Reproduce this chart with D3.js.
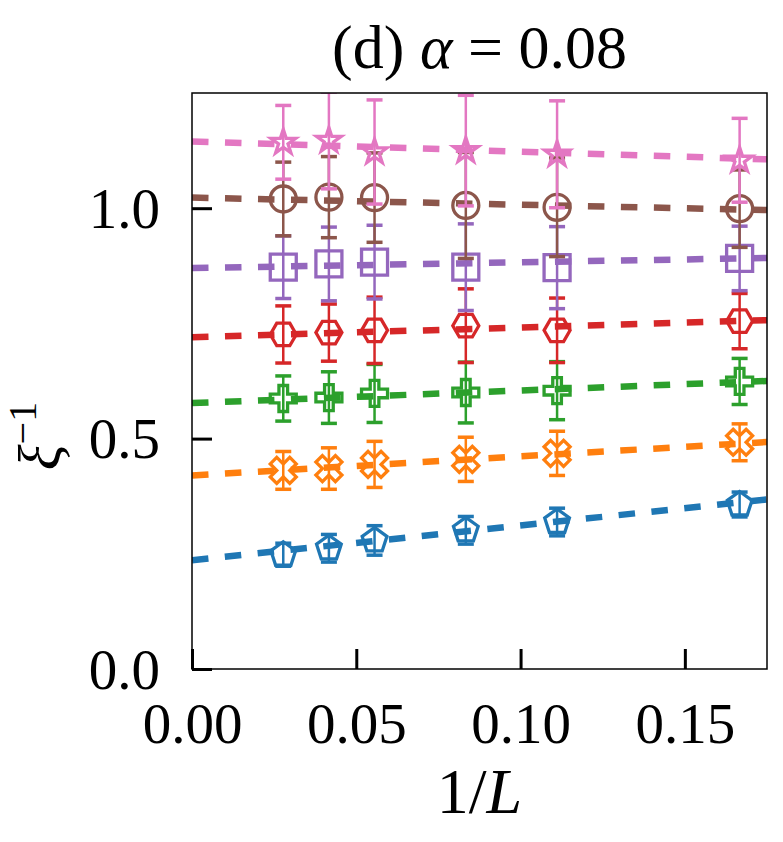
<!DOCTYPE html>
<html>
<head>
<meta charset="utf-8">
<script src="https://cdn.jsdelivr.net/npm/d3@7"></script>
<style>
  body { margin: 0; background: #fff; }
  text { font-family: "Liberation Serif", "DejaVu Serif", serif; fill: #000; }
</style>
</head>
<body>
<div id="chart"></div>
<script>
// 1/L for L = 36, 24, 18, 12, 9, 6
const invL = [1 / 36, 1 / 24, 1 / 18, 1 / 12, 1 / 9, 1 / 6];

const seriesNames = ["s1", "s2", "s3", "s4", "s5", "s6", "s7"];
const seriesColors = ["#1f77b4", "#ff7f0e", "#2ca02c", "#d62728", "#9467bd", "#8c564b", "#e377c2"];
const seriesMarkers = ["pentagon", "xfilled", "plus", "hexagon", "square", "circle", "star"];

// xi^-1 values, one row per series
const values = [
  [0.248, 0.262, 0.279, 0.301, 0.319, 0.357],
  [0.431, 0.435, 0.444, 0.455, 0.468, 0.492],
  [0.587, 0.589, 0.598, 0.600, 0.604, 0.624],
  [0.726, 0.730, 0.735, 0.745, 0.735, 0.755],
  [0.872, 0.879, 0.883, 0.872, 0.871, 0.891],
  [1.020, 1.024, 1.023, 1.006, 1.002, 0.999],
  [1.143, 1.147, 1.122, 1.125, 1.117, 1.104]
];
const errors = [
  [0.025, 0.030, 0.032, 0.030, 0.030, 0.027],
  [0.041, 0.045, 0.050, 0.048, 0.048, 0.040],
  [0.049, 0.056, 0.063, 0.066, 0.063, 0.050],
  [0.062, 0.062, 0.072, 0.080, 0.070, 0.060],
  [0.068, 0.080, 0.080, 0.094, 0.089, 0.070],
  [0.080, 0.088, 0.097, 0.115, 0.107, 0.084],
  [0.080, 0.105, 0.113, 0.120, 0.116, 0.091]
];
// dashed fit lines: value at 1/L = 0 and at the right edge (1/L = 0.175)
const fitAtZero = [0.236, 0.420, 0.577, 0.720, 0.870, 1.023, 1.145];
const fitAtEdge = [0.368, 0.4925, 0.625, 0.757, 0.892, 0.996, 1.106];

const xTicks = [0, 0.05, 0.10, 0.15];
const yTicks = [0, 0.5, 1.0];

const W = 783, H = 842;
const margin = { left: 192, right: 16, top: 93, bottom: 173 };
const xMax = 0.175, yMax = 1.25;

const svg = d3.select("#chart").append("svg")
  .attr("width", W)
  .attr("height", H);

const x = d3.scaleLinear().domain([0, xMax]).range([margin.left, W - margin.right]);
const y = d3.scaleLinear().domain([0, yMax]).range([H - margin.bottom, margin.top]);

svg.append("clipPath").attr("id", "clip")
  .append("rect")
  .attr("x", x(0)).attr("y", y(yMax))
  .attr("width", x(xMax) - x(0)).attr("height", y(0) - y(yMax));

// marker shapes (matplotlib-like), size s = full extent
function polygon(n, r, rot) {
  const pts = [];
  for (let i = 0; i < n; i++) {
    const a = -Math.PI / 2 + rot + i * 2 * Math.PI / n;
    pts.push([r * Math.cos(a), r * Math.sin(a)]);
  }
  return pts;
}
function toPath(pts) {
  return "M" + pts.map(p => p[0].toFixed(2) + "," + p[1].toFixed(2)).join("L") + "Z";
}
function markerPath(type, s) {
  const h = s / 2;
  if (type === "circle") {
    return `M${-h},0A${h},${h} 0 1,0 ${h},0A${h},${h} 0 1,0 ${-h},0Z`;
  }
  if (type === "square") return toPath([[-h, -h], [h, -h], [h, h], [-h, h]]);
  if (type === "pentagon") return toPath(polygon(5, h, 0));
  if (type === "hexagon") return toPath(polygon(6, h, Math.PI / 6));
  if (type === "star") {
    const pts = [];
    for (let i = 0; i < 10; i++) {
      const r = i % 2 === 0 ? h : h * 0.381966;
      const a = -Math.PI / 2 + i * Math.PI / 5;
      pts.push([r * Math.cos(a), r * Math.sin(a)]);
    }
    return toPath(pts);
  }
  if (type === "plus") {
    const u = s / 6;
    return toPath([[-1, -3], [1, -3], [1, -1], [3, -1], [3, 1], [1, 1], [1, 3], [-1, 3], [-1, 1], [-3, 1], [-3, -1], [-1, -1]]
      .map(p => [p[0] * u, p[1] * u]));
  }
  if (type === "xfilled") {
    const u = s / 4;
    return toPath([[-1, -2], [0, -1], [1, -2], [2, -1], [1, 0], [2, 1], [1, 2], [0, 1], [-1, 2], [-2, 1], [-1, 0], [-2, -1]]
      .map(p => [p[0] * u, p[1] * u]));
  }
}

const plot = svg.append("g").attr("clip-path", "url(#clip)");
const markerSize = 26;
const capHalf = 8;

seriesNames.forEach((name, i) => {
  const color = seriesColors[i];
  const pts = invL.map((v, j) => ({ x: v, y: values[i][j], e: errors[i][j] }));
  const g = plot.append("g").attr("class", "series " + name);

  // fit line
  g.append("line")
    .attr("x1", x(0)).attr("y1", y(fitAtZero[i]))
    .attr("x2", x(xMax)).attr("y2", y(fitAtEdge[i]))
    .attr("stroke", color)
    .attr("stroke-width", 6.5)
    .attr("stroke-dasharray", "16.5,16.5");

  // error bars
  g.selectAll("line.err").data(pts).enter().append("line")
    .attr("class", "err")
    .attr("x1", d => x(d.x)).attr("x2", d => x(d.x))
    .attr("y1", d => y(d.y - d.e)).attr("y2", d => y(d.y + d.e))
    .attr("stroke", color).attr("stroke-width", 2.5);
  [-1, 1].forEach(sign => {
    g.selectAll("line.cap" + sign).data(pts).enter().append("line")
      .attr("x1", d => x(d.x) - capHalf).attr("x2", d => x(d.x) + capHalf)
      .attr("y1", d => y(d.y + sign * d.e)).attr("y2", d => y(d.y + sign * d.e))
      .attr("stroke", color).attr("stroke-width", 3.5);
  });

  // markers
  g.selectAll("path.mk").data(pts).enter().append("path")
    .attr("class", "mk")
    .attr("d", markerPath(seriesMarkers[i], markerSize))
    .attr("transform", d => `translate(${x(d.x)},${y(d.y)})`)
    .attr("fill", "none")
    .attr("stroke", color)
    .attr("stroke-width", 3.3)
    .attr("stroke-linejoin", "miter");
});

// frame
svg.append("rect")
  .attr("x", x(0)).attr("y", y(yMax))
  .attr("width", x(xMax) - x(0)).attr("height", y(0) - y(yMax))
  .attr("fill", "none").attr("stroke", "#000").attr("stroke-width", 1.5);

// axes with inward ticks
const fontSize = 57;
const xAxis = svg.append("g")
  .attr("transform", `translate(0,${y(0)})`)
  .call(d3.axisBottom(x).tickValues(xTicks).tickFormat(d3.format(".2f")).tickSize(-20).tickPadding(34));
const yAxis = svg.append("g")
  .attr("transform", `translate(${x(0)},0)`)
  .call(d3.axisLeft(y).tickValues(yTicks).tickFormat(d3.format(".1f")).tickSize(-20).tickPadding(32));
[xAxis, yAxis].forEach(a => {
  a.select(".domain").remove();
  a.selectAll(".tick line").attr("stroke", "#000").attr("stroke-width", 3);
  a.selectAll(".tick text")
    .attr("font-family", "'Liberation Serif', serif")
    .attr("font-size", fontSize)
    .attr("fill", "#000");
});
xAxis.selectAll(".tick text").attr("dy", "0.71em");
yAxis.selectAll(".tick text").attr("dy", "0.34em");

// title
const title = svg.append("text")
  .attr("x", (x(0) + x(xMax)) / 2)
  .attr("y", 68)
  .attr("text-anchor", "middle")
  .attr("font-size", 62);
title.append("tspan").text("(d) ");
title.append("tspan").attr("font-style", "italic").text("α");
title.append("tspan").text(" = 0.08");

// x label
const xl = svg.append("text")
  .attr("x", (x(0) + x(xMax)) / 2)
  .attr("y", 813)
  .attr("text-anchor", "middle")
  .attr("font-size", 64);
xl.append("tspan").text("1/");
xl.append("tspan").attr("font-style", "italic").text("L");

// y label
const yl = svg.append("text")
  .attr("transform", "translate(60,436) rotate(-90)")
  .attr("text-anchor", "middle")
  .attr("font-size", 60);
yl.append("tspan").attr("font-style", "italic").text("ξ");
yl.append("tspan").attr("font-size", 40).attr("dy", -24).text("−1");
</script>
</body>
</html>
